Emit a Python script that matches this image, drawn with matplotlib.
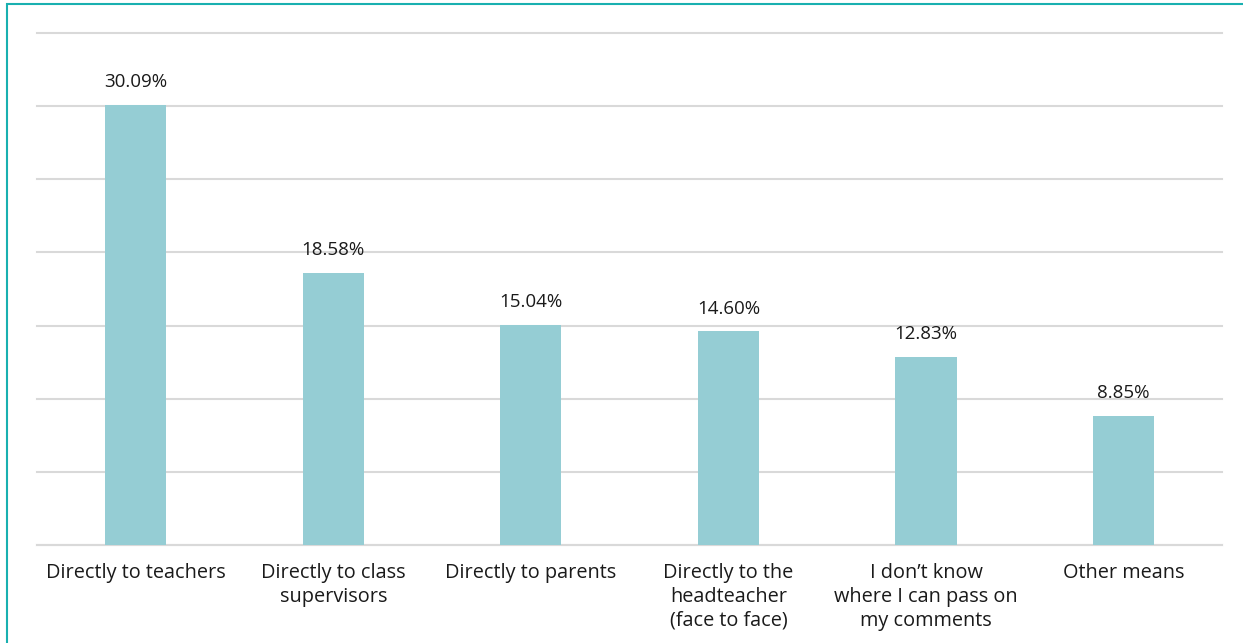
import matplotlib

matplotlib.use("Agg", force=True)
import matplotlib.pyplot as plt
from matplotlib.patches import Rectangle

categories = [
    "Directly to teachers",
    "Directly to class\nsupervisors",
    "Directly to parents",
    "Directly to the\nheadteacher\n(face to face)",
    "I don\u2019t know\nwhere I can pass on\nmy comments",
    "Other means",
]
shares = [30.09, 18.58, 15.04, 14.60, 12.83, 8.85]

plt.rcParams["font.family"] = ["Open Sans", "DejaVu Sans"]

fig = plt.figure(figsize=(12.43, 6.43), dpi=100)
ax = fig.add_axes([0.0298, 0.1524, 0.9535, 0.7963])

x = range(len(categories))
bars = ax.bar(x, shares, width=0.31, color="#95CDD4", zorder=3)
for bar, value in zip(bars, shares):
    ax.annotate(f"{value:.2f}%", (bar.get_x() + bar.get_width() / 2, value),
                xytext=(0, 16.5), textcoords="offset points", ha="center", va="center",
                fontsize=13.5, color="#1a1a1a")

ax.set_xlim(-0.5, len(categories) - 0.5)
ax.set_ylim(0, 35)
ax.set_yticks(range(0, 36, 5))
ax.set_yticklabels([])
ax.tick_params(axis="y", length=0)
ax.set_xticks(list(x))
ax.set_xticklabels(categories, fontsize=14.3, color="#1a1a1a", linespacing=1.26, va="top")
ax.tick_params(axis="x", length=0, pad=13)
ax.grid(axis="y", color="#D9D9D9", linewidth=1.5, zorder=0)
for line in ax.get_ygridlines():
    line.set_clip_on(False)
for side in ["top", "right", "left"]:
    ax.spines[side].set_visible(False)
ax.spines["bottom"].set_color("#D9D9D9")
ax.spines["bottom"].set_linewidth(1.5)

# teal frame along top and left edges
fig.patches.append(Rectangle((6.5 / 1243, -0.1), 1.2, 1.1 - 4.5 / 643, transform=fig.transFigure,
                             fill=False, edgecolor="#19B0B0", linewidth=1.5))

fig.savefig("out.png", dpi=100)
plt.close(fig)
